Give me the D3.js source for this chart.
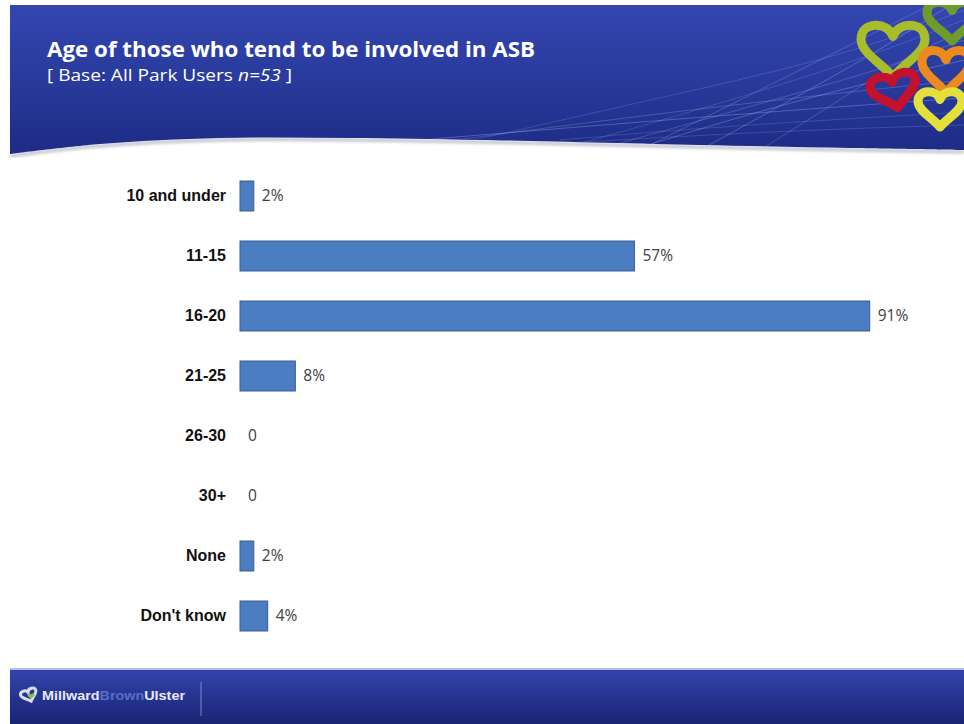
<!DOCTYPE html>
<html>
<head>
<meta charset="utf-8">
<script src="https://cdn.jsdelivr.net/npm/d3@7"></script>
<style>
  html, body { margin: 0; padding: 0; background: #ffffff; }
  svg { display: block; }
</style>
</head>
<body>
<svg id="chart" width="964" height="724"></svg>
<script>
// Survey data: age groups and share of respondents (%)
const categories = ["10 and under", "11-15", "16-20", "21-25", "26-30", "30+", "None", "Don't know"];
const values = [2, 57, 91, 8, 0, 0, 2, 4];
const titleText = "Age of those who tend to be involved in ASB";
const baseText = ["[ Base: All Park Users ", "n=53", " ]"];
const brandParts = ["Millward", "Brown", "Ulster"];

const W = 964, H = 724;
const svg = d3.select("#chart");
const defs = svg.append("defs");

// ---------- header banner ----------
const hdrGrad = defs.append("linearGradient").attr("id", "hdrGrad")
  .attr("x1", 0).attr("y1", 0).attr("x2", 0).attr("y2", 1);
hdrGrad.append("stop").attr("offset", "0%").attr("stop-color", "#3446b0");
hdrGrad.append("stop").attr("offset", "55%").attr("stop-color", "#28399a");
hdrGrad.append("stop").attr("offset", "100%").attr("stop-color", "#1d2b85");

const waveLine = d3.line().curve(d3.curveCatmullRom.alpha(0.5));
const wavePts = [[10, 154], [100, 144], [220, 138], [350, 138], [480, 140], [700, 145], [850, 148], [964, 150]];
const headerPath = "M10,5 L964,5 L964,150 " +
  waveLine(wavePts.slice().reverse()).replace(/^M/, "L") + " Z";

defs.append("clipPath").attr("id", "hdrClip").append("path").attr("d", headerPath);
defs.append("filter").attr("id", "soft").append("feGaussianBlur").attr("stdDeviation", 1.6);

// soft grey shadow under the wave
svg.append("path")
  .attr("d", waveLine(wavePts.map(p => [p[0], p[1] + 2])))
  .attr("fill", "none").attr("stroke", "#8f93a8").attr("stroke-width", 3)
  .attr("opacity", 0.6).attr("filter", "url(#soft)");

svg.append("path").attr("d", headerPath).attr("fill", "url(#hdrGrad)");

// faint sweeping lines in the banner
const hdr = svg.append("g").attr("clip-path", "url(#hdrClip)");
const sweep = d3.line().curve(d3.curveBasis);
const sweeps = [
  [[520, 160], [700, 110], [860, 60], [964, 20]],
  [[560, 160], [720, 115], [880, 70], [964, 40]],
  [[600, 160], [760, 110], [900, 75], [964, 60]],
  [[430, 150], [650, 100], [850, 55], [964, 10]],
  [[380, 150], [620, 118], [820, 95], [964, 80]],
  [[300, 150], [600, 125], [820, 108], [964, 98]],
  [[560, 140], [700, 128], [860, 118], [964, 112]],
  [[640, 150], [760, 90], [860, 40], [930, 5]],
  [[700, 150], [800, 95], [880, 50], [950, 5]],
  [[480, 148], [700, 135], [860, 128], [964, 125]],
  [[760, 150], [840, 100], [900, 60], [964, 30]]
];
sweeps.forEach((s, i) => {
  hdr.append("path").attr("d", sweep(s))
    .attr("fill", "none").attr("stroke", "#c8d0ff")
    .attr("stroke-width", 0.9).attr("opacity", 0.2 + (i % 3) * 0.06);
});

// heart logo cluster
function heart(cx, cy, w, h) {
  const x = d3.scaleLinear().domain([-1, 1]).range([cx - w / 2, cx + w / 2]);
  const y = d3.scaleLinear().domain([-1, 1]).range([cy - h / 2, cy + h / 2]);
  return `M${x(0)},${y(-0.45)}` +
    ` C${x(0.15)},${y(-1)} ${x(1)},${y(-1)} ${x(1)},${y(-0.35)}` +
    ` C${x(1)},${y(0.15)} ${x(0.3)},${y(0.55)} ${x(0)},${y(1)}` +
    ` C${x(-0.3)},${y(0.55)} ${x(-1)},${y(0.15)} ${x(-1)},${y(-0.35)}` +
    ` C${x(-1)},${y(-1)} ${x(-0.15)},${y(-1)} ${x(0)},${y(-0.45)} Z`;
}
const hearts = [
  { cx: 952, cy: 20, w: 50, h: 42, rot: 0, color: "#6f9a2c" },
  { cx: 893, cy: 49, w: 64, h: 56, rot: 0, color: "#a9bd2c" },
  { cx: 946, cy: 70, w: 48, h: 46, rot: 0, color: "#ec8a1e" },
  { cx: 894, cy: 90, w: 46, h: 36, rot: -12, color: "#c5102e" },
  { cx: 940, cy: 108, w: 44, h: 38, rot: 0, color: "#e3e03c" }
];
hearts.forEach(hd => {
  hdr.append("path").attr("d", heart(hd.cx, hd.cy, hd.w, hd.h))
    .attr("transform", `rotate(${hd.rot},${hd.cx},${hd.cy})`)
    .attr("fill", "none").attr("stroke", hd.color)
    .attr("stroke-width", 9).attr("stroke-linejoin", "round");
});

// title and base note
svg.append("text")
  .attr("x", 47).attr("y", 57)
  .attr("fill", "#ffffff")
  .attr("font-family", "'Open Sans', 'DejaVu Sans', sans-serif")
  .attr("font-weight", "bold").attr("font-size", 22)
  .attr("textLength", 488).attr("lengthAdjust", "spacingAndGlyphs")
  .text(titleText);

const sub = svg.append("text")
  .attr("x", 47).attr("y", 81)
  .attr("fill", "#ffffff")
  .attr("font-family", "'Open Sans', 'DejaVu Sans', sans-serif")
  .attr("font-size", 16.5)
  .attr("textLength", 245).attr("lengthAdjust", "spacingAndGlyphs");
sub.append("tspan").text(baseText[0]);
sub.append("tspan").attr("font-style", "italic").text(baseText[1]);
sub.append("tspan").text(baseText[2]);

// ---------- bars ----------
const x = d3.scaleLinear().domain([0, 100]).range([240, 932]);
const y = d3.scaleBand().domain(categories).range([166, 646])
  .paddingInner(0.5).paddingOuter(0.25);

const data = categories.map((c, i) => ({ cat: c, val: values[i] }));

svg.append("g").selectAll("rect").data(data).join("rect")
  .attr("x", x(0))
  .attr("y", d => y(d.cat))
  .attr("width", d => x(d.val) - x(0))
  .attr("height", y.bandwidth())
  .attr("fill", "#4a7dc1")
  .attr("stroke", d => d.val > 0 ? "#3a5f92" : "none")
  .attr("stroke-width", 1);

// category axis (labels only)
const yAxis = svg.append("g")
  .attr("transform", `translate(${x(0) - 4},0)`)
  .call(d3.axisLeft(y).tickSize(0).tickPadding(10));
yAxis.select(".domain").remove();
yAxis.selectAll("text")
  .attr("font-family", "'Liberation Sans', Arial, sans-serif")
  .attr("font-weight", "bold").attr("font-size", 16)
  .attr("fill", "#111111");

// value labels
svg.append("g").selectAll("text").data(data).join("text")
  .attr("x", d => x(d.val) + 8)
  .attr("y", d => y(d.cat) + y.bandwidth() / 2)
  .attr("dy", "0.35em")
  .attr("font-family", "'Open Sans', 'DejaVu Sans', sans-serif")
  .attr("font-size", 15.5)
  .attr("fill", "#404040")
  .text(d => d.val === 0 ? "0" : d.val + "%");

// ---------- footer ----------
const ftGrad = defs.append("linearGradient").attr("id", "ftGrad")
  .attr("x1", 0).attr("y1", 0).attr("x2", 0).attr("y2", 1);
ftGrad.append("stop").attr("offset", "0%").attr("stop-color", "#3244ac");
ftGrad.append("stop").attr("offset", "100%").attr("stop-color", "#1a2474");

svg.append("rect").attr("x", 10).attr("y", 668).attr("width", W - 10).attr("height", 2.5)
  .attr("fill", "#b4bbe4");
svg.append("rect").attr("x", 10).attr("y", 670).attr("width", W - 10).attr("height", H - 670)
  .attr("fill", "url(#ftGrad)");

// brand mark
const mark = svg.append("g").attr("transform", "translate(29,695)");
mark.append("path").attr("d", heart(0, 0, 16, 13))
  .attr("transform", "rotate(-20)")
  .attr("fill", "none").attr("stroke", "#d9dcee").attr("stroke-width", 3);
mark.append("path").attr("d", heart(2, 1, 7, 6))
  .attr("fill", "#8fbf4a");

const brand = svg.append("text")
  .attr("x", 42).attr("y", 700)
  .attr("font-family", "'Liberation Sans', Arial, sans-serif")
  .attr("font-weight", "bold").attr("font-size", 12.5)
  .attr("textLength", 143).attr("lengthAdjust", "spacingAndGlyphs");
brand.append("tspan").attr("fill", "#e8eaf6").text(brandParts[0]);
brand.append("tspan").attr("fill", "#5a6dc4").text(brandParts[1]);
brand.append("tspan").attr("fill", "#e8eaf6").text(brandParts[2]);

svg.append("line").attr("x1", 201).attr("x2", 201).attr("y1", 682).attr("y2", 716)
  .attr("stroke", "#8e9ad6").attr("stroke-width", 1.2).attr("opacity", 0.7);
</script>
</body>
</html>
